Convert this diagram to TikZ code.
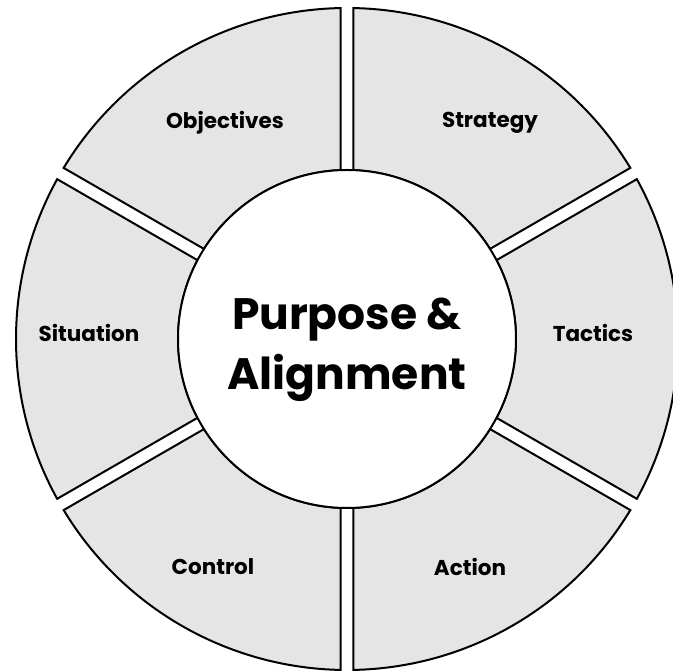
\documentclass[tikz,border=0pt]{standalone}
\usepackage{fontspec}
\setmainfont{Poppins}
\usetikzlibrary{positioning}
\definecolor{segfill}{RGB}{229,229,229}
\tikzstyle{segment}=[draw=black,fill=segfill,line width=2pt,line join=miter]
\tikzstyle{hub}=[circle,draw=black,fill=white,line width=2pt,minimum size=338pt,inner sep=0pt]
\tikzstyle{hubtext}=[align=center,inner sep=0pt,font=\fontsize{44}{60}\selectfont\bfseries]
\tikzstyle{seglabel}=[font=\fontsize{21.5}{25}\selectfont\bfseries]

\begin{document}
\begin{tikzpicture}[x=1pt,y=1pt]
    \useasboundingbox (-347,-332) rectangle (326,339);
    % Ring radii and half of the gap between segments
    \def\Rout{331}
    \def\Rin{169}
    \def\halfgap{6.5}
    \pgfmathsetmacro\aout{asin(\halfgap/\Rout)}
    \pgfmathsetmacro\ain{asin(\halfgap/\Rin)}

    % First we draw the six segments of the ring
    \foreach \from/\to in {90/30, 30/-30, -30/-90, -90/-150, -150/-210, 150/90}
        \path[segment] ({\from-\aout}:\Rout pt)
            arc[start angle=\from-\aout, end angle=\to+\aout, radius=\Rout pt]
            -- ({\to+\ain}:\Rin pt)
            arc[start angle=\to+\ain, end angle=\from-\ain, radius=\Rin pt]
            -- cycle;

    % Then the hub on top
    \node[hub] (hub) at (0,0) {};
    \node[hubtext] (purpose) at (0,-11) {Purpose \&\\Alignment};

    % Segment labels
    \foreach \pos/\name/\label in {{(143,216)}/strategy/Strategy, {(246,6)}/tactics/Tactics, {(123,-228)}/action/Action, {(-134,-228)}/control/Control, {(-258,6)}/situation/Situation, {(-122,216)}/objectives/Objectives}
        \node[seglabel] (\name) at \pos {\label};
\end{tikzpicture}
\end{document}
